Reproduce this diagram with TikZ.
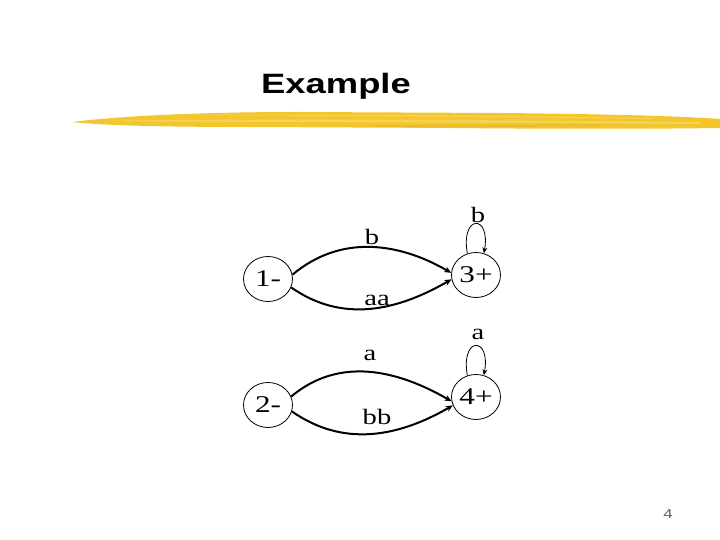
\documentclass[tikz,border=0pt]{standalone}
\usepackage{fontspec}
\setmainfont{Liberation Serif}[FakeStretch=1.3]
\newfontfamily\titlefont{Liberation Sans}[FakeStretch=1.3]
\usetikzlibrary{arrows.meta,shapes.geometric}
\definecolor{brushA}{HTML}{F3C62E}
\definecolor{brushB}{HTML}{F8DC6A}
\definecolor{brushC}{HTML}{E6B020}
\definecolor{pagegray}{HTML}{606060}
\tikzset{
  state/.style={ellipse,draw,line width=0.8pt,minimum width=49pt,minimum height=45pt,inner sep=0pt,font=\fontsize{24}{24}\selectfont},
  lbl/.style={font=\fontsize{22}{22}\selectfont,inner sep=0pt},
  edge/.style={line width=2pt,-{Stealth[length=7pt,width=6pt]}},
  loopedge/.style={line width=0.8pt,-{Stealth[length=6pt,width=5pt]}}
}
\begin{document}
\begin{tikzpicture}[x=1pt,y=1pt]
\useasboundingbox (0,0) rectangle (720,540);
% brush stroke
\fill[brushA] (72,418) .. controls (120,424) and (200,428) .. (300,428) -- (500,427) .. controls (600,426) and (680,424) .. (720,421) -- (720,412) .. controls (650,411) and (550,411) .. (450,412) -- (250,413) .. controls (150,413) and (100,415) .. (72,418) -- cycle;
\fill[brushB,opacity=0.6] (90,419) .. controls (200,421) and (400,421) .. (700,418) -- (700,416) .. controls (400,418) and (200,418) .. (90,419) -- cycle;
\fill[brushB,opacity=0.6] (150,425) .. controls (300,426) and (450,425) .. (650,422) -- (650,421) .. controls (450,424) and (300,424) .. (150,425) -- cycle;
\fill[brushC,opacity=0.5] (320,414) .. controls (400,413) and (500,413) .. (600,414) -- (600,415.5) .. controls (500,415) and (400,415) .. (320,414) -- cycle;
\node[font=\titlefont\bfseries\fontsize{28}{28}\selectfont,inner sep=0pt] (title) at (336,454) {Example};
% states
\node[state] (n1) at (268,261) {1-};
\node[state] (n3) at (476,265) {3+};
\node[state] (n2) at (268,135) {2-};
\node[state] (n4) at (476,143) {4+};
% edges
\draw[edge] (n1.10) to[out=40,in=150] (n3.175);
\draw[edge] (n1.-20) to[out=-35,in=-150] (n3.-170);
\draw[edge] (n2.20) to[out=40,in=150] (n4.-170);
\draw[edge] (n2.-15) to[out=-35,in=-150] (n4.-160);
\draw[loopedge] (n3.112) .. controls +(100:40) and +(80:40) .. (n3.70);
\draw[loopedge] (n4.112) .. controls +(100:40) and +(80:40) .. (n4.70);
% labels
\node[lbl] (lb1) at (372,303) {b};
\node[lbl] (laa) at (377,240) {aa};
\node[lbl] (lb2) at (478,325) {b};
\node[lbl] (la1) at (370,185) {a};
\node[lbl] (lbb) at (377,123) {bb};
\node[lbl] (la2) at (478,206) {a};
\node[font=\titlefont\fontsize{13}{13}\selectfont,text=pagegray,inner sep=0pt] (pg) at (668,26) {4};
\end{tikzpicture}
\end{document}
